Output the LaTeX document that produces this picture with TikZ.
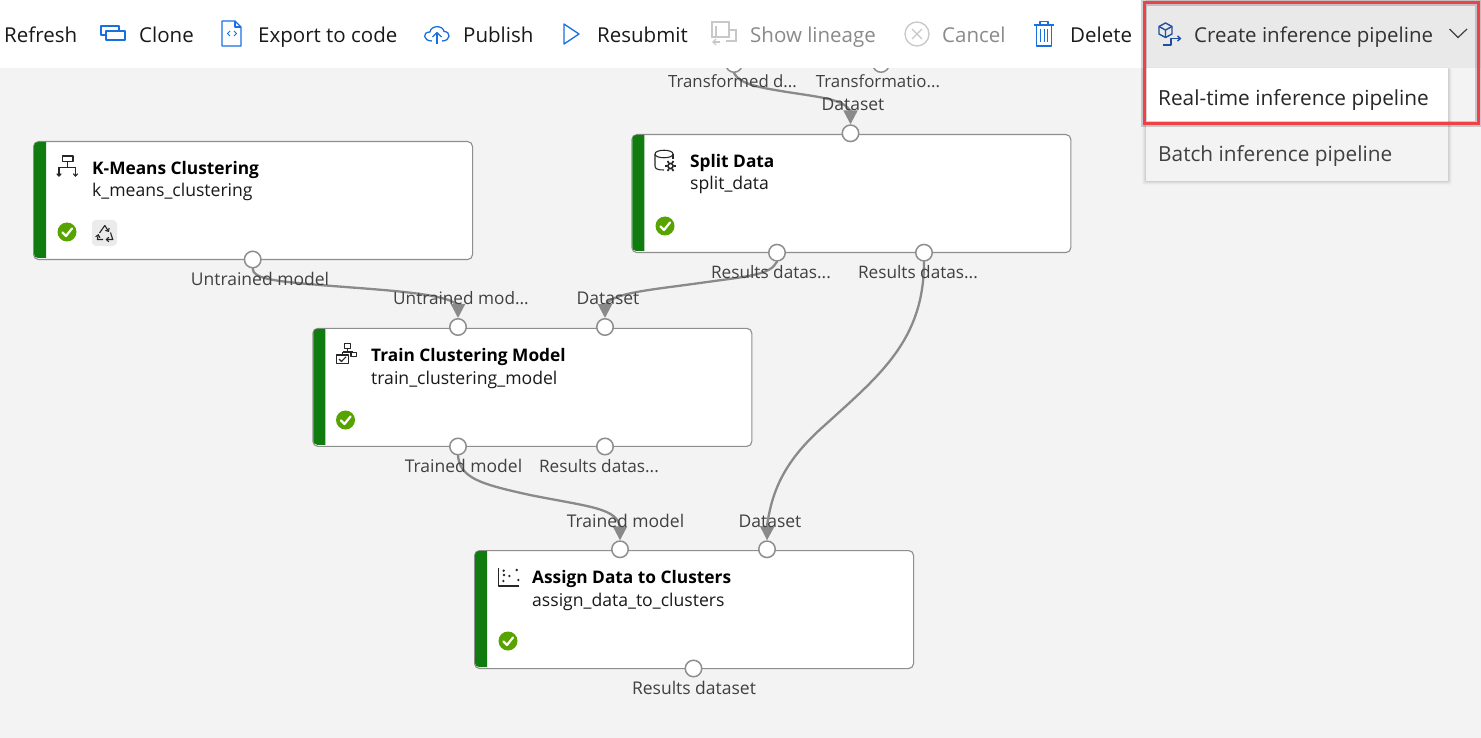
\documentclass[tikz,border=0pt]{standalone}
\usepackage{fontspec}
\setmainfont{Open Sans}
\usetikzlibrary{arrows.meta}
\definecolor{cvbg}{HTML}{F3F3F3}
\definecolor{edgegray}{HTML}{8A8A8A}
\definecolor{portgray}{HTML}{8E8E8E}
\definecolor{cardgreen}{HTML}{107C10}
\definecolor{okgreen}{HTML}{57A300}
\definecolor{tbblue}{HTML}{1A6FE0}
\definecolor{navy}{HTML}{1F4E9E}
\definecolor{dimgray}{HTML}{C8C8C8}
\definecolor{dimtext}{HTML}{8A8A8A}
\definecolor{labeltext}{HTML}{404040}
\definecolor{redbox}{HTML}{F04048}
\tikzset{
  x=1pt,y=-1pt,
  cardbox/.style={draw=portgray,line width=1.1pt,fill=white,rounded corners=5pt,minimum width=439pt,minimum height=118pt,inner sep=0pt,anchor=north west},
  port/.style={circle,draw=portgray,line width=1.5pt,fill=white,minimum size=16.5pt,inner sep=0pt},
  conn/.style={draw=edgegray,line width=2.3pt,line cap=round,-{Triangle[length=14pt,width=14pt,fill=edgegray]}},
  connplain/.style={draw=edgegray,line width=2.3pt,line cap=round},
  tbtext/.style={anchor=base west,inner sep=0pt,font=\fontsize{20.5}{24}\selectfont,text=black!90},
  tbdim/.style={tbtext,text=dimtext},
  menutext/.style={anchor=base west,inner sep=0pt,font=\fontsize{20.8}{24}\selectfont,text=black!85},
  cardtitle/.style={anchor=base west,inner sep=0pt,font=\bfseries\fontsize{17.3}{20}\selectfont,text=black},
  cardsub/.style={anchor=base west,inner sep=0pt,font=\fontsize{17.6}{20}\selectfont,text=black!90},
  portlabel/.style={anchor=base,inner sep=0pt,font=\fontsize{17.5}{20}\selectfont,text=labeltext},
  cutlabel/.style={portlabel,font=\fontsize{17.2}{20}\selectfont},
  okdot/.style={circle,fill=okgreen,minimum size=19pt,inner sep=0pt},
  tbicon/.style={draw=tbblue,line width=1.3pt,line join=round},
  cardicon/.style={draw=black!85,line width=1.1pt,line join=round},
  smallbarb/.style={-{Straight Barb[length=2.5pt,width=4.5pt]}},
}
\begin{document}
\begin{tikzpicture}
\useasboundingbox (0,0) rectangle (1481,738);
\fill[cvbg] (0,0) rectangle (1481,738);

% cards
\node[cardbox] (kcard) at (33,141) {};
\node[cardbox] (scard) at (631.3,134) {};
\node[cardbox] (tcard) at (312.3,327.8) {};
\node[cardbox] (acard) at (474,550) {};
\foreach \cx/\cy in {33/141,631.3/134,312.3/327.8,474/550}{
  \begin{scope}[shift={(\cx,\cy)}]
  \fill[cardgreen] (13,1) [rounded corners=4pt] -- (1,1) -- (1,117) [sharp corners] -- (13,117) -- cycle;
  \end{scope}
}

% ports
\node[port] (top1) at (734,64) {};
\node[port] (top2) at (881,64) {};
\node[port] (kout) at (252.7,259.5) {};
\node[port] (sin) at (850.5,133.3) {};
\node[port] (sout1) at (777,252.7) {};
\node[port] (sout2) at (924,252.7) {};
\node[port] (tin1) at (458,327) {};
\node[port] (tin2) at (605,327) {};
\node[port] (tout1) at (458,446.5) {};
\node[port] (tout2) at (605,446.5) {};
\node[port] (ain1) at (620,549.3) {};
\node[port] (ain2) at (767,549.3) {};
\node[port] (aout) at (693.5,668.5) {};

% connectors
\draw[connplain] (top1.south) .. controls (738,80) and (745,85) .. (775,90) .. controls (815,97) and (845,98) .. (850.5,112);
\draw[conn] (850.5,110) -- (sin.north);
\draw[connplain] (kout.south) .. controls (253,278) and (270,281) .. (320,285) .. controls (380,290) and (450,293) .. (458,306);
\draw[conn] (458,304) -- (tin1.north);
\draw[connplain] (sout1.south) .. controls (770,275) and (750,276) .. (700,283) .. controls (650,290) and (610,293) .. (605,306);
\draw[conn] (605,304) -- (tin2.north);
\draw[connplain] (tout1.south) .. controls (460,478) and (480,484) .. (530,495) .. controls (590,507) and (618,508) .. (620,528);
\draw[conn] (620,526) -- (ain1.north);
\draw[connplain] (sout2.south) .. controls (924,340) and (880,375) .. (825,425) .. controls (785,460) and (772,490) .. (767,526);
\draw[conn] (767.3,524) -- (ain2.north);

% port labels
\node[cutlabel,font=\fontsize{16.8}{20}\selectfont] (l1) at (732.5,88) {Transformed d...};
\node[cutlabel,font=\fontsize{16.8}{20}\selectfont] (l2) at (878,88) {Transformatio...};
\node[portlabel] (l3) at (853,110.5) {Dataset};
\node[cutlabel] (l4) at (771,278) {Results datas...};
\node[cutlabel] (l5) at (918,278) {Results datas...};
\node[portlabel] (l6) at (260,285) {Untrained model};
\node[cutlabel] (l7) at (461,305) {Untrained mod...};
\node[portlabel] (l8) at (608,305) {Dataset};
\node[portlabel] (l9) at (463.5,472) {Trained model};
\node[cutlabel] (l10) at (599,472) {Results datas...};
\node[portlabel] (l11) at (625.5,527) {Trained model};
\node[portlabel] (l12) at (770,527) {Dataset};
\node[portlabel] (l13) at (694,694) {Results dataset};

% card text
\node[cardtitle] (kt) at (92,174.5) {K-Means Clustering};
\node[cardsub] (ks) at (92,197) {k\_means\_clustering};
\node[cardtitle] (st) at (690,167.5) {Split Data};
\node[cardsub] (ss) at (690,190) {split\_data};
\node[cardtitle] (tt) at (371,361.5) {Train Clustering Model};
\node[cardsub] (ts) at (371,384) {train\_clustering\_model};
\node[cardtitle] (at) at (532,583.5) {Assign Data to Clusters};
\node[cardsub] (as) at (532,606) {assign\_data\_to\_clusters};

% status dots
\foreach \dn/\dx/\dy in {kok/67/232,sok/665/226,tok/345.5/420,aok/508/641}{
  \node[okdot] (\dn) at (\dx,\dy) {};
  \draw[white,line width=2.2pt,line cap=round,line join=round] (\dx-4.5,\dy+0.5) -- (\dx-1,\dy+4) -- (\dx+5,\dy-3.5);
}
% reuse badge
\fill[black!8,rounded corners=4pt] (92,220) rectangle (117,246);
\draw[black!85,line width=1.1pt,line join=round,smallbarb] (99.5,233) -- (104.8,225.5) -- (109,232);
\draw[black!85,line width=1.1pt,line join=round,smallbarb] (110.5,232.5) -- (112.8,239.5) -- (105.5,239.5);
\draw[black!85,line width=1.1pt,line join=round,smallbarb] (103,239.5) -- (97.3,239.5) -- (98.5,234);

\begin{scope}[cardicon]
% K-means icon
\draw (62.5,156) rectangle (73,161.5);
\draw (67.5,161.5) -- (67.5,167.5);
\draw (59,167.5) -- (75.5,167.5);
\draw[smallbarb] (59,167.5) -- (59,177);
\draw[smallbarb] (75.5,167.5) -- (75.5,177);
% split icon
\draw (673,154) .. controls (673,149) and (655,149) .. (655,154) .. controls (655,159) and (673,159) .. (673,154);
\draw (673,154) -- (673,159);
\draw (655,154) -- (655,166) .. controls (655,169) and (658,170) .. (664,170);
\draw[line width=1.6pt] (670.5,166) circle[radius=2.6pt];
\foreach \a in {0,60,...,300}{\draw[line width=1.7pt] (670.5,166) ++(\a:3.2) -- ++(\a:2.6);}
% train icon
\draw (344.3,343.5) rectangle (350.3,348.5);
\draw (347.3,348.5) -- (347.3,352) (342.5,352) -- (353,352) (342.5,352) -- (342.5,355);
\draw[fill=white] (351,352.7) rectangle (356.7,356.7);
\draw[fill=white] (336.7,355) rectangle (348.3,363.3);
\draw (339,359) -- (341.5,361.5) -- (346,356.8);
% assign icon
\draw (498.7,568) -- (498.7,586) -- (519,586);
\end{scope}
\foreach \px/\py in {503.7/570.7,504/575,503.3/581,509.3/576,516.7/570,518.3/580}{
  \fill[black!85] (\px,\py) circle[radius=1.3pt];
}

% toolbar
\fill[white] (0,0) rectangle (1146,68);
\fill[black!8.5] (1146,0) rectangle (1481,68);
\node[tbtext] (bref) at (4,42.5) {Refresh};
\node[tbtext] (bclo) at (139,42.5) {Clone};
\node[tbtext] (bexp) at (258,42.5) {Export to code};
\node[tbtext] (bpub) at (463,42.5) {Publish};
\node[tbtext] (bres) at (597,42.5) {Resubmit};
\node[tbdim] (blin) at (750,42.5) {Show lineage};
\node[tbdim] (bcan) at (942,42.5) {Cancel};
\node[tbtext] (bdel) at (1070,42.5) {Delete};
\node[tbtext,text=black!80] (bcre) at (1194,42.5) {Create inference pipeline};

% toolbar icons
\draw[tbicon] (101,26) rectangle (119,35);
\draw[tbicon,line width=2pt,fill=white] (106,31) rectangle (125,40);
\draw[tbicon] (222,21) -- (235,21) -- (241,27) -- (241,46) -- (222,46) -- cycle;
\draw[tbicon] (235,21) -- (235,27) -- (241,27);
\draw[tbicon,line width=1pt] (230,31) -- (227.5,33.5) -- (230,36) (234,31) -- (236.5,33.5) -- (234,36);
\draw[tbicon] (432,41) .. controls (423,41) and (422,32) .. (430,32) .. controls (431,25) and (443,25) .. (444,31.5) .. controls (451,31.5) and (451,41) .. (442,41);
\draw[tbicon] (437,44) -- (437,33);
\draw[tbicon] (432.5,37) -- (437,32.5) -- (441.5,37);
\draw[tbicon] (564,24) -- (579,34) -- (564,44) -- cycle;
\begin{scope}[draw=dimgray,line width=1.3pt]
\draw (712,22) rectangle (729,37);
\draw (716,26) -- (716,37);
\draw (729,30) -- (736,30) -- (736,41) -- (726,41);
\draw (713,42) -- (720,42);
\draw (716,39) -- (713,42) -- (716,45);
\end{scope}
\node[circle,draw=dimgray,line width=1.3pt,minimum size=24pt,inner sep=0pt] (xcirc) at (917,34) {};
\draw[dimgray,line width=1.3pt] (912,29) -- (922,39) (922,29) -- (912,39);
\draw[tbicon] (1034,25) -- (1054,25);
\draw[tbicon] (1040,25) -- (1040,21.5) -- (1048,21.5) -- (1048,25);
\draw[tbicon] (1036.5,25) -- (1036.5,46) -- (1051.5,46) -- (1051.5,25);
\draw[tbicon,line width=1pt] (1040.5,29) -- (1040.5,42) (1044,29) -- (1044,42) (1047.5,29) -- (1047.5,42);
\begin{scope}[draw=navy,line width=1.4pt,line join=round]
\draw (1165.5,23) -- (1172,26.5) -- (1172,34) -- (1165.5,37.5) -- (1159,34) -- (1159,26.5) -- cycle;
\draw (1159,26.5) -- (1165.5,30) -- (1172,26.5) (1165.5,30) -- (1165.5,37.5);
\draw (1163,45) -- (1171,45) -- (1171,38.5) -- (1180,38.5);
\draw (1177.5,36) -- (1180.5,38.5) -- (1177.5,41);
\end{scope}
\draw[black!75,line width=1.2pt] (1449.5,29) -- (1458,37.5) -- (1467,29);

% dropdown
\foreach \s/\o in {4/0.02,3/0.03,2/0.04,1/0.05}{
  \fill[black,opacity=\o,rounded corners=2pt] (1146-\s,68) rectangle (1448+\s,181+\s);
}
\fill[cvbg] (1146,68) rectangle (1448,181);
\fill[white] (1146,68) rectangle (1448,125);
\node[menutext] (mrt) at (1158,105.5) {Real-time inference pipeline};
\node[menutext,text=black!75] (mbt) at (1158,161.5) {Batch inference pipeline};

% highlight
\foreach \s/\o in {3.5/0.08,2.5/0.1}{
  \draw[black,opacity=\o,line width=\s*1pt+3pt] (1144,3) rectangle (1478,124);
}
\draw[redbox,line width=3pt] (1144,3) rectangle (1478,124);
\end{tikzpicture}
\end{document}
